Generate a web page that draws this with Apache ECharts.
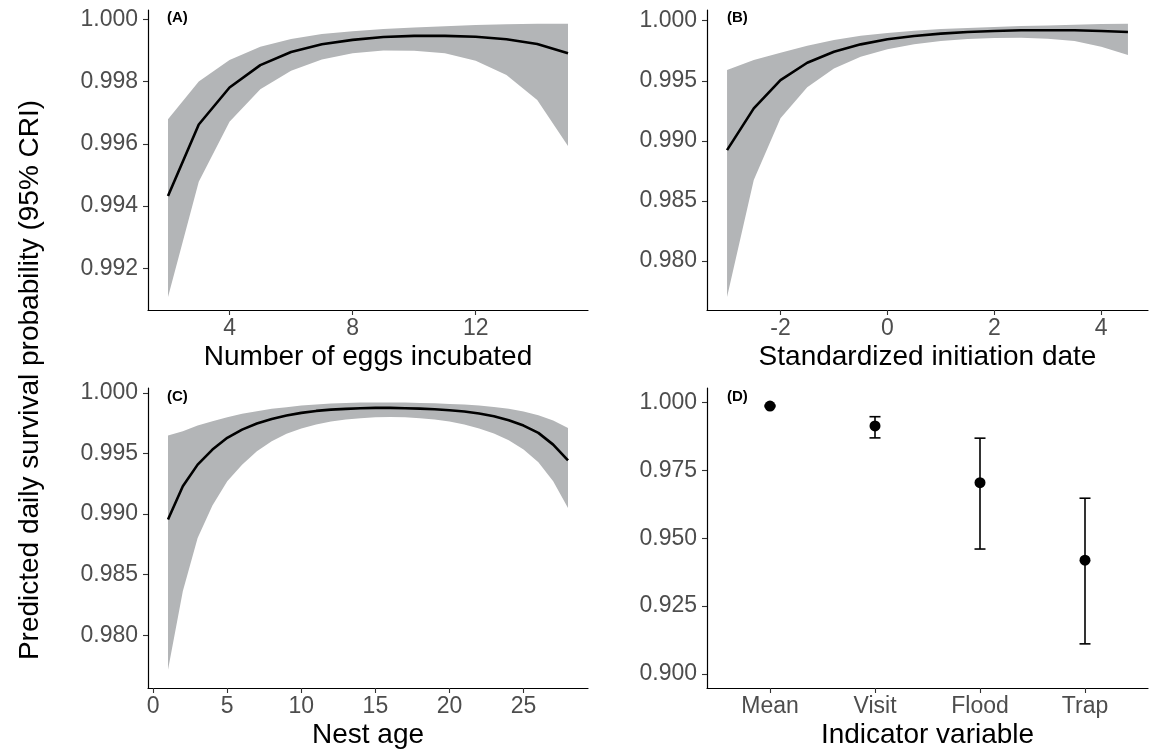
<!DOCTYPE html>
<html><head><meta charset="utf-8">
<script src="https://cdn.jsdelivr.net/npm/echarts@6/dist/echarts.min.js"></script>
<style>html,body{margin:0;padding:0;background:#fff}#c{width:1149px;height:752px}</style>
</head><body><div id="c"></div><script>
// Panel A: number of eggs incubated
const eggsX = [2,3,4,5,6,7,8,9,10,11,12,13,14,15];
const eggsMean = [0.99432,0.99662,0.99781,0.99853,0.99895,0.9992,0.99934,0.99943,0.99947,0.99947,0.99944,0.99936,0.99921,0.99891];
const eggsLower = [0.99108,0.99478,0.99671,0.99775,0.99835,0.99871,0.99891,0.999,0.99899,0.99891,0.99867,0.99821,0.99741,0.99593];
const eggsUpper = [0.99679,0.998,0.99869,0.99912,0.99937,0.99953,0.99962,0.99969,0.99974,0.99978,0.99982,0.99984,0.99986,0.99986];
// Panel B: standardized initiation date
const dateX = [-3,-2.5,-2,-1.5,-1,-0.5,0,0.5,1,1.5,2,2.5,3,3.5,4,4.5];
const dateMean = [0.98923,0.9927,0.99506,0.9965,0.99742,0.99803,0.99845,0.99873,0.99892,0.99906,0.99914,0.9992,0.9992,0.9992,0.99914,0.99906];
const dateLower = [0.977,0.98673,0.99187,0.99445,0.99603,0.997,0.99762,0.99803,0.99831,0.99848,0.99856,0.99858,0.9985,0.99831,0.99783,0.99714];
const dateUpper = [0.99589,0.99673,0.99733,0.99792,0.99839,0.99875,0.99898,0.99917,0.99931,0.99939,0.99948,0.99956,0.99961,0.99967,0.99973,0.99975];
// Panel C: nest age
const ageX = [1,2,3,4,5,6,7,8,9,10,11,12,13,14,15,16,17,18,19,20,21,22,23,24,25,26,27,28];
const ageMean = [0.98955,0.99229,0.99408,0.99532,0.99629,0.99697,0.99747,0.99785,0.99813,0.99835,0.99851,0.99862,0.99868,0.99873,0.99876,0.99876,0.99873,0.9987,0.99865,0.99856,0.99846,0.99829,0.99807,0.99774,0.9973,0.9967,0.99573,0.99444];
const ageLower = [0.97717,0.98363,0.98804,0.9907,0.9927,0.99408,0.99518,0.996,0.99662,0.99705,0.99738,0.99763,0.9978,0.9979,0.99799,0.998,0.99799,0.9979,0.9978,0.99763,0.99738,0.99705,0.99664,0.99609,0.99532,0.99427,0.9927,0.99051];
const ageUpper = [0.99648,0.99683,0.9973,0.99766,0.99799,0.99827,0.99848,0.99868,0.99881,0.99895,0.99903,0.99912,0.99917,0.9992,0.9992,0.9992,0.9992,0.99917,0.99915,0.99909,0.99903,0.99895,0.99884,0.99868,0.99846,0.99815,0.99771,0.99711];
// Panel D: indicator variables
const indCats = ['Mean','Visit','Flood','Trap'];
const indEst = [0.9986,0.9913,0.9704,0.9419];
const indLower = [0.9984,0.9869,0.9460,0.9111];
const indUpper = [0.9989,0.9947,0.9868,0.9647];
// Tick labels
const ticksAx = [4,8,12];
const ticksAy = [0.992,0.994,0.996,0.998,1.000];
const ticksBx = [-2,0,2,4];
const ticksBy = [0.980,0.985,0.990,0.995,1.000];
const ticksCx = [0,5,10,15,20,25];
const ticksCy = [0.980,0.985,0.990,0.995,1.000];
const ticksDy = [0.900,0.925,0.950,0.975,1.000];

const FONT = 'Liberation Sans, Arial, sans-serif';
const BAND = '#b3b5b7';

function xAxis(gi, min, max, ticks, name, fmt) {
  return {
    type: 'value', gridIndex: gi, min: min, max: max,
    axisLine: {show: true, onZero: false, lineStyle: {color: '#000', width: 1.2}},
    axisTick: {show: true, length: 5, customValues: ticks, lineStyle: {color: '#333', width: 1.1}},
    axisLabel: {customValues: ticks, fontSize: 23, color: '#4d4d4d', fontFamily: FONT, margin: 7,
      formatter: fmt || (v => String(v))},
    splitLine: {show: false},
    name: name, nameLocation: 'middle', nameGap: 33,
    nameTextStyle: {fontSize: 28, color: '#000', fontFamily: FONT}
  };
}
function yAxis(gi, min, max, ticks) {
  return {
    type: 'value', gridIndex: gi, min: min, max: max,
    axisLine: {show: true, onZero: false, lineStyle: {color: '#000', width: 1.2}},
    axisTick: {show: true, length: 5, customValues: ticks, lineStyle: {color: '#333', width: 1.1}},
    axisLabel: {customValues: ticks, fontSize: 23, color: '#4d4d4d', fontFamily: FONT, margin: 10,
      formatter: v => v.toFixed(3)},
    splitLine: {show: false}
  };
}
function pairs(xs, ys) { return xs.map((x, i) => [x, ys[i]]); }
// Ribbon between lower and upper, drawn as one polygon through the axis scales.
function bandSeries(gi, xs, lo, hi) {
  return {
    type: 'custom', xAxisIndex: gi, yAxisIndex: gi, silent: true, z: 1,
    data: xs.map((x, i) => [x, lo[i], hi[i]]),
    encode: {x: 0, y: [1, 2]},
    renderItem: function (params, api) {
      if (params.dataIndex !== 0) return null;
      const pts = [];
      for (let i = 0; i < xs.length; i++) pts.push(api.coord([xs[i], hi[i]]));
      for (let i = xs.length - 1; i >= 0; i--) pts.push(api.coord([xs[i], lo[i]]));
      return {type: 'polygon', shape: {points: pts}, style: {fill: BAND}};
    }
  };
}
function meanSeries(gi, xs, ys) {
  return {type: 'line', xAxisIndex: gi, yAxisIndex: gi, data: pairs(xs, ys), symbol: 'none',
    lineStyle: {color: '#000', width: 2.6}, z: 3};
}

const chart = echarts.init(document.getElementById('c'), null, {renderer: 'canvas'});
const option = {
  animation: false,
  backgroundColor: '#fff',
  grid: [
    {left: 148, top: 10, width: 440, height: 300},
    {left: 707, top: 10, width: 441, height: 300},
    {left: 148, top: 388, width: 440, height: 300},
    {left: 707, top: 388, width: 441, height: 300}
  ],
  xAxis: [
    xAxis(0, 1.35, 15.65, ticksAx, 'Number of eggs incubated'),
    xAxis(1, -3.375, 4.875, ticksBx, 'Standardized initiation date'),
    xAxis(2, -0.35, 29.35, ticksCx, 'Nest age'),
    xAxis(3, 0.4, 4.6, [1,2,3,4], 'Indicator variable', v => indCats[Math.round(v) - 1] || '')
  ],
  yAxis: [
    yAxis(0, 0.99066, 1.0003, ticksAy),
    yAxis(1, 0.97592, 1.00089, ticksBy),
    yAxis(2, 0.97566, 1.0004, ticksCy),
    yAxis(3, 0.89486, 1.00526, ticksDy)
  ],
  graphic: [
    {type: 'text', x: 30, y: 380, rotation: Math.PI / 2,
      style: {text: 'Predicted daily survival probability (95% CRI)', font: '28px ' + FONT, fill: '#000',
        align: 'center', verticalAlign: 'middle'}},
    {type: 'text', x: 167, y: 18, style: {text: '(A)', font: 'bold 15px ' + FONT, fill: '#000', verticalAlign: 'middle'}},
    {type: 'text', x: 727, y: 18, style: {text: '(B)', font: 'bold 15px ' + FONT, fill: '#000', verticalAlign: 'middle'}},
    {type: 'text', x: 167, y: 397, style: {text: '(C)', font: 'bold 15px ' + FONT, fill: '#000', verticalAlign: 'middle'}},
    {type: 'text', x: 727, y: 397, style: {text: '(D)', font: 'bold 15px ' + FONT, fill: '#000', verticalAlign: 'middle'}}
  ],
  series: [
    bandSeries(0, eggsX, eggsLower, eggsUpper),
    meanSeries(0, eggsX, eggsMean),
    bandSeries(1, dateX, dateLower, dateUpper),
    meanSeries(1, dateX, dateMean),
    bandSeries(2, ageX, ageLower, ageUpper),
    meanSeries(2, ageX, ageMean),
    {
      type: 'custom', xAxisIndex: 3, yAxisIndex: 3,
      data: indCats.map((c, i) => [i + 1, indLower[i], indUpper[i]]),
      encode: {x: 0, y: [1, 2]},
      renderItem: function (params, api) {
        const x = api.value(0);
        const pHi = api.coord([x, api.value(2)]);
        const pLo = api.coord([x, api.value(1)]);
        const hw = 5.5;
        const st = {stroke: '#000', lineWidth: 1.6};
        return {type: 'group', children: [
          {type: 'line', shape: {x1: pHi[0], y1: pHi[1], x2: pLo[0], y2: pLo[1]}, style: st},
          {type: 'line', shape: {x1: pHi[0] - hw, y1: pHi[1], x2: pHi[0] + hw, y2: pHi[1]}, style: st},
          {type: 'line', shape: {x1: pLo[0] - hw, y1: pLo[1], x2: pLo[0] + hw, y2: pLo[1]}, style: st}
        ]};
      },
      z: 2
    },
    {type: 'scatter', xAxisIndex: 3, yAxisIndex: 3, data: indEst.map((v, i) => [i + 1, v]),
      symbol: 'circle', symbolSize: 11, itemStyle: {color: '#000', opacity: 1}, z: 3}
  ]
};
chart.setOption(option);
</script></body></html>
